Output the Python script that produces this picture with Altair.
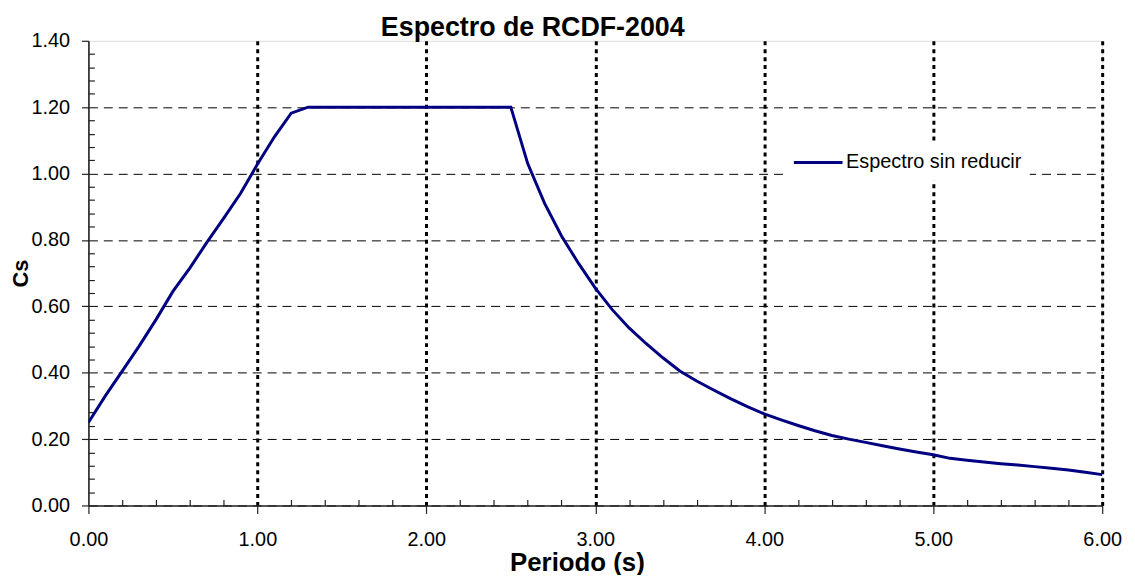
import altair as alt
import pandas as pd

# ---- data ----
periodo = [round(0.1 * i, 1) for i in range(61)]
cs = [
    0.25, 0.33, 0.405, 0.48, 0.56, 0.645, 0.715, 0.792, 0.865, 0.94,
    1.028, 1.11, 1.182, 1.20, 1.20, 1.20, 1.20, 1.20, 1.20, 1.20,
    1.20, 1.20, 1.20, 1.20, 1.20, 1.20, 1.03, 0.91, 0.812, 0.73,
    0.655, 0.59, 0.535, 0.488, 0.445, 0.405, 0.375, 0.348, 0.322, 0.298,
    0.276, 0.258, 0.241, 0.225, 0.211, 0.200, 0.190, 0.180, 0.170, 0.161,
    0.153, 0.142, 0.136, 0.131, 0.126, 0.122, 0.117, 0.112, 0.107, 0.100,
    0.093,
]
serie = ["Espectro sin reducir"] * len(periodo)

x_major = [0, 1, 2, 3, 4, 5, 6]
y_major = [0, 0.2, 0.4, 0.6, 0.8, 1.0, 1.2, 1.4]
x_minor = [round(0.2 * i, 2) for i in range(31) if i % 5 != 0]
y_minor = [round(0.04 * i, 2) for i in range(36) if i % 5 != 0]

title_text = "Espectro de RCDF-2004"
x_title = "Periodo (s)"
y_title = "Cs"

df = pd.DataFrame({"Periodo": periodo, "Cs": cs, "serie": serie})

FONT = "Liberation Sans"
NAVY = "#000080"

x_scale = alt.Scale(domain=[0, 6], nice=False, zero=False)
y_scale = alt.Scale(domain=[0, 1.4], nice=False, zero=False)

base = alt.Chart(df)

main = base.mark_line(strokeWidth=3, clip=True).encode(
    x=alt.X(
        "Periodo:Q",
        scale=x_scale,
        axis=alt.Axis(
            values=x_major,
            format=".2f",
            title=x_title,
            titleFont=FONT,
            titleFontSize=26,
            titleFontWeight="bold",
            titleColor="black",
            titleX=492,
            titleY=65,
            titleAlign="center",
            titleBaseline="alphabetic",
            labelFont=FONT,
            labelFontSize=20,
            labelColor="black",
            labelBaseline="alphabetic",
            labelPadding=32,
            labelFlush=False,
            tickSize=8,
            tickColor="#222",
            tickWidth=1.2,
            domainColor="#222",
            domainWidth=1.6,
            grid=True,
            gridColor="black",
            gridWidth=3,
            gridDash=[4, 4],
            gridOpacity=alt.condition("datum.value < 0.01", alt.value(0), alt.value(1)),
        ),
    ),
    y=alt.Y(
        "Cs:Q",
        scale=y_scale,
        axis=alt.Axis(
            values=y_major,
            format=".2f",
            title=y_title,
            titleFont=FONT,
            titleFontSize=22,
            titleFontWeight="bold",
            titleColor="black",
            titleX=-61,
            titleY=234,
            titleAngle=270,
            titleAlign="center",
            titleBaseline="alphabetic",
            labelFont=FONT,
            labelFontSize=20,
            labelColor="black",
            labelPadding=12,
            labelFlush=False,
            tickSize=7,
            tickColor="#222",
            tickWidth=1.2,
            domainColor="#222",
            domainWidth=1.6,
            grid=True,
            gridColor="black",
            gridWidth=1,
            gridDash=[9, 6],
            gridOpacity=alt.condition("datum.value > 1.39", alt.value(0), alt.value(1)),
        ),
    ),
    color=alt.Color(
        "serie:N",
        scale=alt.Scale(range=[NAVY]),
        legend=alt.Legend(
            title=None,
            orient="none",
            legendX=701,
            legendY=103,
            fillColor="white",
            padding=8,
            symbolType="M-1,0H3.9",
            symbolSize=400,
            symbolStrokeWidth=3,
            labelFont=FONT,
            labelFontSize=20,
            labelColor="black",
            labelOffset=31,
            labelLimit=400,
        ),
    ),
)

minor = base.mark_line(opacity=0).encode(
    x=alt.X(
        "Periodo:Q",
        scale=x_scale,
        axis=alt.Axis(
            orient="bottom",
            values=x_minor,
            offset=-6,
            tickSize=6,
            tickColor="#222",
            tickWidth=1.2,
            domain=False,
            labels=False,
            grid=False,
            title=None,
        ),
    ),
    y=alt.Y(
        "Cs:Q",
        scale=y_scale,
        axis=alt.Axis(
            orient="left",
            values=y_minor,
            offset=-6,
            tickSize=6,
            tickColor="#222",
            tickWidth=1.2,
            domain=False,
            labels=False,
            grid=False,
            title=None,
        ),
    ),
)

chart = (
    alt.layer(main, minor)
    .resolve_axis(x="independent", y="independent")
    .properties(
        width=1021,
        height=468,
        autosize=alt.AutoSizeParams(type="none"),
        padding={"left": 81, "top": 31, "right": 25, "bottom": 68},
        title=alt.TitleParams(
            text=title_text,
            font=FONT,
            fontSize=27,
            fontWeight="bold",
            color="black",
            anchor="middle",
            frame="group",
            dx=-63,
            dy=36,
            offset=4,
            baseline="alphabetic",
        ),
    )
    .configure_view(stroke="#808080", strokeWidth=1)
    .configure(background="white")
)

chart.save("out.html", embed_options={"renderer": "svg", "actions": False})
